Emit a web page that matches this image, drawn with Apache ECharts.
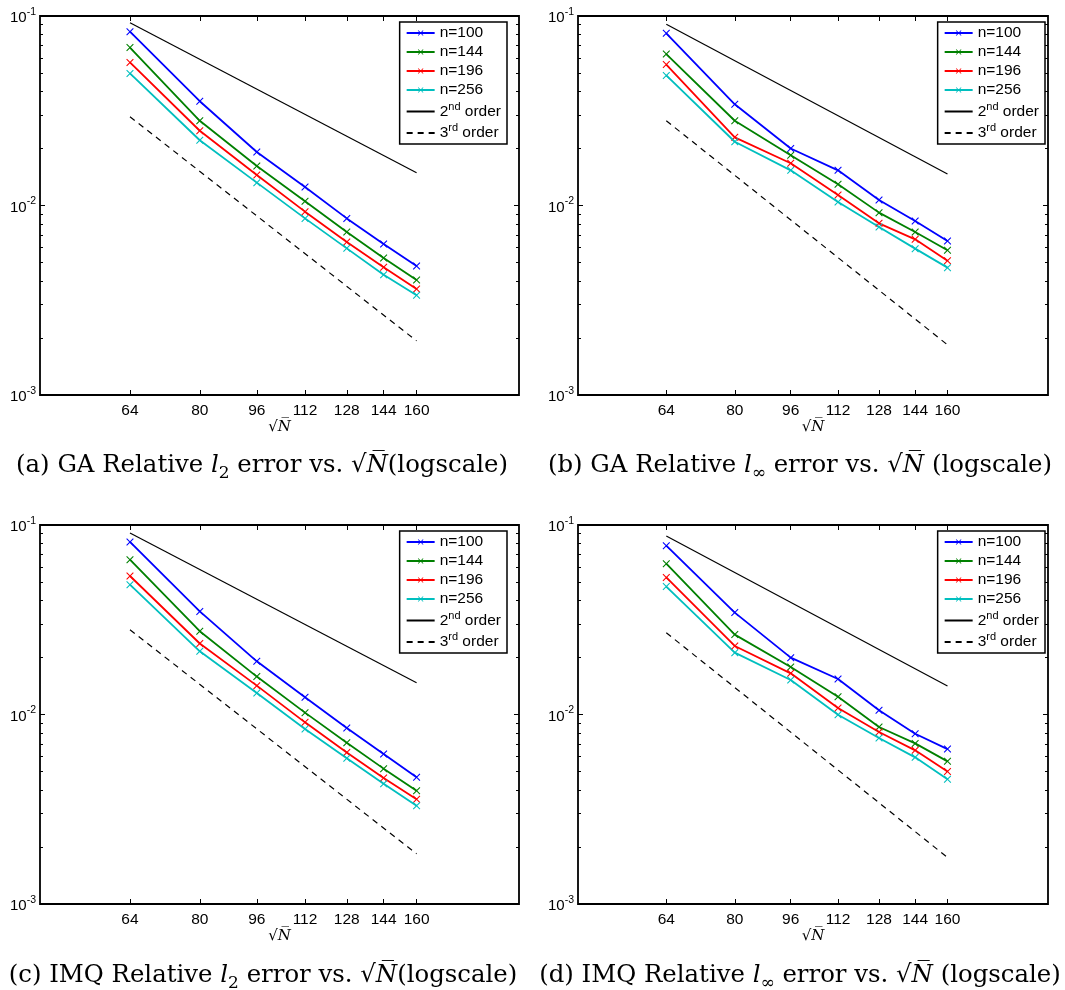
<!DOCTYPE html>
<html><head><meta charset="utf-8">
<script src="https://cdn.jsdelivr.net/npm/echarts@6.0.0/dist/echarts.min.js"></script>
<style>html,body{margin:0;padding:0;background:#fff}#c{width:1065px;height:990px}</style>
</head><body><div id="c"></div>
<script>
// ---------- data ----------
const xValues = [64, 80, 96, 112, 128, 144, 160];
const xTickLabels = [64, 80, 96, 112, 128, 144, 160];
const orderX = [64, 160];
const yMajorTicks = [0.001, 0.01, 0.1];
const yMinorTicks = [0.002,0.003,0.004,0.005,0.006,0.007,0.008,0.009,0.02,0.03,0.04,0.05,0.06,0.07,0.08,0.09];
const seriesNames = ['n=100', 'n=144', 'n=196', 'n=256', '2nd order', '3rd order'];
const captions = [
  '(a) GA Relative {i|l}{sub|2} error vs. {r|√}{n|N̅}(logscale)',
  '(b) GA Relative {i|l}{sub|∞} error vs. {r|√}{n|N̅} (logscale)',
  '(c) IMQ Relative {i|l}{sub|2} error vs. {r|√}{n|N̅}(logscale)',
  '(d) IMQ Relative {i|l}{sub|∞} error vs. {r|√}{n|N̅} (logscale)'
];

// (a) GA relative l2
const gaL2_n100 = [0.0827, 0.0355, 0.01915, 0.01252, 0.00855, 0.00626, 0.00479];
const gaL2_n144 = [0.0681, 0.0280, 0.01616, 0.01052, 0.00725, 0.00528, 0.00404];
const gaL2_n196 = [0.0569, 0.0248, 0.01449, 0.00928, 0.00642, 0.00472, 0.00362];
const gaL2_n256 = [0.0498, 0.0221, 0.0132, 0.00855, 0.00594, 0.00431, 0.00336];
const gaL2_order2 = [0.0922, 0.0149];
const gaL2_order3 = [0.0294, 0.00193];
// (b) GA relative l-inf
const gaLinf_n100 = [0.0810, 0.0342, 0.0200, 0.01533, 0.01069, 0.00828, 0.00650];
const gaLinf_n144 = [0.0630, 0.0280, 0.0184, 0.01293, 0.00917, 0.00725, 0.00580];
const gaLinf_n196 = [0.0554, 0.0229, 0.0167, 0.01136, 0.00805, 0.00663, 0.00511];
const gaLinf_n256 = [0.0486, 0.0217, 0.01533, 0.01043, 0.00770, 0.00592, 0.00470];
const gaLinf_order2 = [0.0904, 0.01466];
const gaLinf_order3 = [0.0280, 0.00184];
// (c) IMQ relative l2
const imqL2_n100 = [0.0814, 0.0350, 0.01908, 0.01232, 0.00849, 0.00619, 0.00466];
const imqL2_n144 = [0.0656, 0.0275, 0.01585, 0.01023, 0.00710, 0.00518, 0.00396];
const imqL2_n196 = [0.0538, 0.0237, 0.01420, 0.00909, 0.00631, 0.00462, 0.00357];
const imqL2_n256 = [0.0484, 0.02154, 0.01299, 0.00838, 0.00587, 0.00431, 0.00330];
const imqL2_order2 = [0.0907, 0.01472];
const imqL2_order3 = [0.0280, 0.00184];
// (d) IMQ relative l-inf
const imqLinf_n100 = [0.0778, 0.0345, 0.01995, 0.01539, 0.01052, 0.00792, 0.00657];
const imqLinf_n144 = [0.0625, 0.0264, 0.01781, 0.01242, 0.00859, 0.00704, 0.00566];
const imqLinf_n196 = [0.0529, 0.0230, 0.01649, 0.01082, 0.00809, 0.00647, 0.00501];
const imqLinf_n256 = [0.0473, 0.0212, 0.01521, 0.00998, 0.00752, 0.00594, 0.00455];
const imqLinf_order2 = [0.0875, 0.01414];
const imqLinf_order3 = [0.0270, 0.00176];

// ---------- layout / style ----------
const panelData = [
  [gaL2_n100, gaL2_n144, gaL2_n196, gaL2_n256, gaL2_order2, gaL2_order3],
  [gaLinf_n100, gaLinf_n144, gaLinf_n196, gaLinf_n256, gaLinf_order2, gaLinf_order3],
  [imqL2_n100, imqL2_n144, imqL2_n196, imqL2_n256, imqL2_order2, imqL2_order3],
  [imqLinf_n100, imqLinf_n144, imqLinf_n196, imqLinf_n256, imqLinf_order2, imqLinf_order3]
];
const layout = [
  {grid: {left: 40, top: 16, width: 479, height: 379}, legend: {right: 558, top: 22}, cap: {x: 262, y: 466}},
  {grid: {left: 578, top: 16, width: 470, height: 379}, legend: {right: 20, top: 22}, cap: {x: 800, y: 466}},
  {grid: {left: 40, top: 525, width: 479, height: 379}, legend: {right: 558, top: 531}, cap: {x: 263, y: 976}},
  {grid: {left: 578, top: 525, width: 470, height: 379}, legend: {right: 20, top: 531}, cap: {x: 800, y: 976}}
];
const colors = ['#0000ff', '#008000', '#ff0000', '#00bfbf', '#000000', '#000000'];
const xSym = 'path://M0,1L1,0L5,4L9,0L10,1L6,5L10,9L9,10L5,6L1,10L0,9L4,5Z';
const SANS = 'Liberation Sans';
const SERIF = 'DejaVu Serif';
const CAP = 24.4;

const grids = [], xAxes = [], yAxes = [], series = [], legends = [], graphics = [];

layout.forEach((L, g) => {
  grids.push(Object.assign({show: true, borderColor: '#000', borderWidth: 1.8, backgroundColor: 'transparent', containLabel: false}, L.grid));

  const xBase = {type: 'log', logBase: 10, gridIndex: g, min: 48, max: 222,
    axisLine: {show: false}, splitLine: {show: false}, minorTick: {show: false}, minorSplitLine: {show: false}};
  xAxes.push(Object.assign({}, xBase, {position: 'bottom',
    axisTick: {show: true, inside: true, length: 5, customValues: xValues, lineStyle: {color: '#000', width: 1}},
    axisLabel: {show: true, customValues: xTickLabels, formatter: v => String(Math.round(v)),
      color: '#000', fontFamily: SANS, fontSize: 15.5, margin: 8},
    name: '{r|√}{n|N̅}', nameLocation: 'middle', nameGap: 23,
    nameTextStyle: {color: '#000', rich: {
      r: {fontFamily: SERIF, fontSize: 15, color: '#000'},
      n: {fontFamily: SERIF, fontStyle: 'italic', fontSize: 15, color: '#000'}}}
  }));
  xAxes.push(Object.assign({}, xBase, {position: 'top',
    axisTick: {show: true, inside: true, length: 5, customValues: xValues, lineStyle: {color: '#000', width: 1}},
    axisLabel: {show: false}}));

  const mkY = (pos, major) => ({type: 'log', logBase: 10, gridIndex: g, position: pos, min: 0.001, max: 0.1,
    axisLine: {show: false}, splitLine: {show: false}, minorTick: {show: false}, minorSplitLine: {show: false},
    axisTick: {show: true, inside: true, length: major ? 5 : 3, customValues: major ? yMajorTicks : yMinorTicks,
      lineStyle: {color: '#000', width: 1}},
    axisLabel: {show: major && pos === 'left', customValues: yMajorTicks, margin: 4,
      formatter: v => '{b|10}{sup|' + Math.round(Math.log10(v)) + '}',
      rich: {
        b: {fontFamily: SANS, fontSize: 15, color: '#000', verticalAlign: 'bottom'},
        sup: {fontFamily: SANS, fontSize: 10.5, color: '#000', verticalAlign: 'bottom', padding: [0, 0, 8, 0]}
      }}
  });
  yAxes.push(mkY('left', true), mkY('left', false), mkY('right', true), mkY('right', false));

  panelData[g].forEach((vals, k) => {
    const isOrder = k >= 4;
    const xs = isOrder ? orderX : xValues;
    series.push({
      type: 'line', name: seriesNames[k], xAxisIndex: 2 * g, yAxisIndex: 4 * g,
      data: xs.map((x, i) => [x, vals[i]]),
      symbol: isOrder ? 'none' : xSym, symbolSize: 7.5, showSymbol: !isOrder,
      lineStyle: {color: colors[k], width: isOrder ? 1.2 : 1.8, type: k === 5 ? [6, 5] : 'solid'},
      itemStyle: {color: isOrder ? 'rgba(0,0,0,0)' : colors[k]},
      emphasis: {disabled: true}, silent: true, z: isOrder ? 2 : 3
    });
  });

  legends.push({
    orient: 'vertical', right: L.legend.right, top: L.legend.top, data: seriesNames,
    itemWidth: 28, itemHeight: 7, itemGap: 3, padding: [3, 6, 3, 6],
    borderColor: '#000', borderWidth: 1.5, backgroundColor: '#fff', borderRadius: 0,
    selectedMode: false,
    formatter: name => name === '2nd order' ? '2{sup|nd} order' : (name === '3rd order' ? '3{sup|rd} order' : name),
    textStyle: {fontFamily: SANS, fontSize: 15.5, color: '#000', padding: [0, 0, 0, 0],
      rich: {sup: {fontFamily: SANS, fontSize: 11, color: '#000', padding: [0, 0, 10, 0]}}}
  });

  graphics.push({type: 'text', x: L.cap.x, y: L.cap.y, silent: true,
    style: {text: captions[g], align: 'center', verticalAlign: 'middle', fill: '#000',
      fontFamily: SERIF, fontSize: CAP,
      rich: {
        i: {fontFamily: SERIF, fontSize: CAP, fontStyle: 'italic', fill: '#000', color: '#000'},
        sub: {fontFamily: SERIF, fontSize: 17, fill: '#000', color: '#000', padding: [16, 0, 0, 0]},
        r: {fontFamily: SERIF, fontSize: CAP, fill: '#000', color: '#000'},
        n: {fontFamily: SERIF, fontSize: CAP, fontStyle: 'italic', fill: '#000', color: '#000'}
      }}});
});

const chart = echarts.init(document.getElementById('c'), null, {renderer: 'canvas'});
chart.setOption({
  animation: false, backgroundColor: '#fff',
  grid: grids, xAxis: xAxes, yAxis: yAxes, series: series, legend: legends, graphic: graphics
});
</script></body></html>
